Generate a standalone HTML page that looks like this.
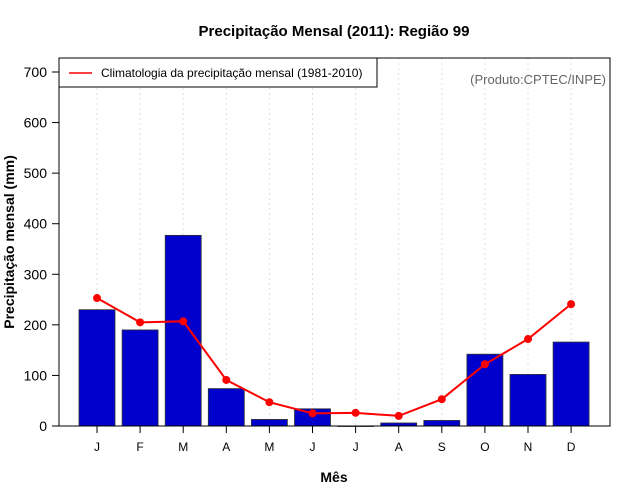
<!DOCTYPE html>
<html><head><meta charset="utf-8"><style>body{margin:0;background:#fff}svg{display:block;font-family:"Liberation Sans",sans-serif}</style></head>
<body>
<svg id="c" width="640" height="500"></svg>
<script>
const months=["J","F","M","A","M","J","J","A","S","O","N","D"];
const observed=[230,190,377,74,13,34,0,6,11,142,102,166];
const climatology=[253,205,207,91,47,25,26,20,53,122,172,241];
const yTicks=[0,100,200,300,400,500,600,700];
const NS="http://www.w3.org/2000/svg";
const svg=document.getElementById("c");
const L=59,R=610,T=58,B=426;
const x=i=>97+i*43.1;
const y=v=>B-v*(B-72)/700;
function mk(t,a,txt){const e=document.createElementNS(NS,t);for(const k in a)e.setAttribute(k,a[k]);if(txt!=null)e.textContent=txt;svg.appendChild(e);return e;}
months.forEach((m,i)=>{const g=mk("line",{x1:x(i),x2:x(i),y1:T,y2:B,stroke:"#e0e0e0","stroke-dasharray":"2,3"});

});
observed.forEach((v,i)=>{const b=mk("rect",{x:x(i)-18,y:y(v),width:36,height:Math.max(B-y(v),0.5),fill:"#0000cc",stroke:"#333","stroke-width":0.8});

});
const f=mk("rect",{x:L,y:T,width:R-L,height:B-T,fill:"none",stroke:"#000","stroke-width":1});


yTicks.forEach(v=>{mk("line",{x1:L-7,x2:L,y1:y(v),y2:y(v),stroke:"#000"});
const t=mk("text",{x:L-12,y:y(v)+5,"text-anchor":"end","font-size":14},v);

});
months.forEach((m,i)=>{mk("line",{x1:x(i),x2:x(i),y1:B,y2:B+7,stroke:"#000"});
const t=mk("text",{x:x(i),y:451,"text-anchor":"middle","font-size":12},m);

});
const ln=mk("polyline",{points:climatology.map((v,i)=>x(i)+","+y(v)).join(" "),fill:"none",stroke:"#f00","stroke-width":2});


climatology.forEach((v,i)=>{const p=mk("circle",{cx:x(i),cy:y(v),r:4,fill:"#f00"});

});
const lg=mk("rect",{x:59,y:58,width:318,height:29,fill:"#fff",stroke:"#000"});


mk("line",{x1:69,x2:92,y1:73,y2:73,stroke:"#f00","stroke-width":1.5});
const lt=mk("text",{x:101,y:77,"font-size":12},"Climatologia da precipitação mensal (1981-2010)");


const pr=mk("text",{x:606,y:84,"text-anchor":"end","font-size":13,fill:"#666"},"(Produto:CPTEC/INPE)");


const ti=mk("text",{x:334,y:36,"text-anchor":"middle","font-size":15,"font-weight":"bold"},"Precipitação Mensal (2011): Região 99");


const xt=mk("text",{x:334,y:482,"text-anchor":"middle","font-size":14,"font-weight":"bold"},"Mês");


const yt=mk("text",{x:0,y:0,"text-anchor":"middle","font-size":14,"font-weight":"bold",transform:"translate(14,242) rotate(-90)"},"Precipitação mensal (mm)");


</script>
</body></html>
